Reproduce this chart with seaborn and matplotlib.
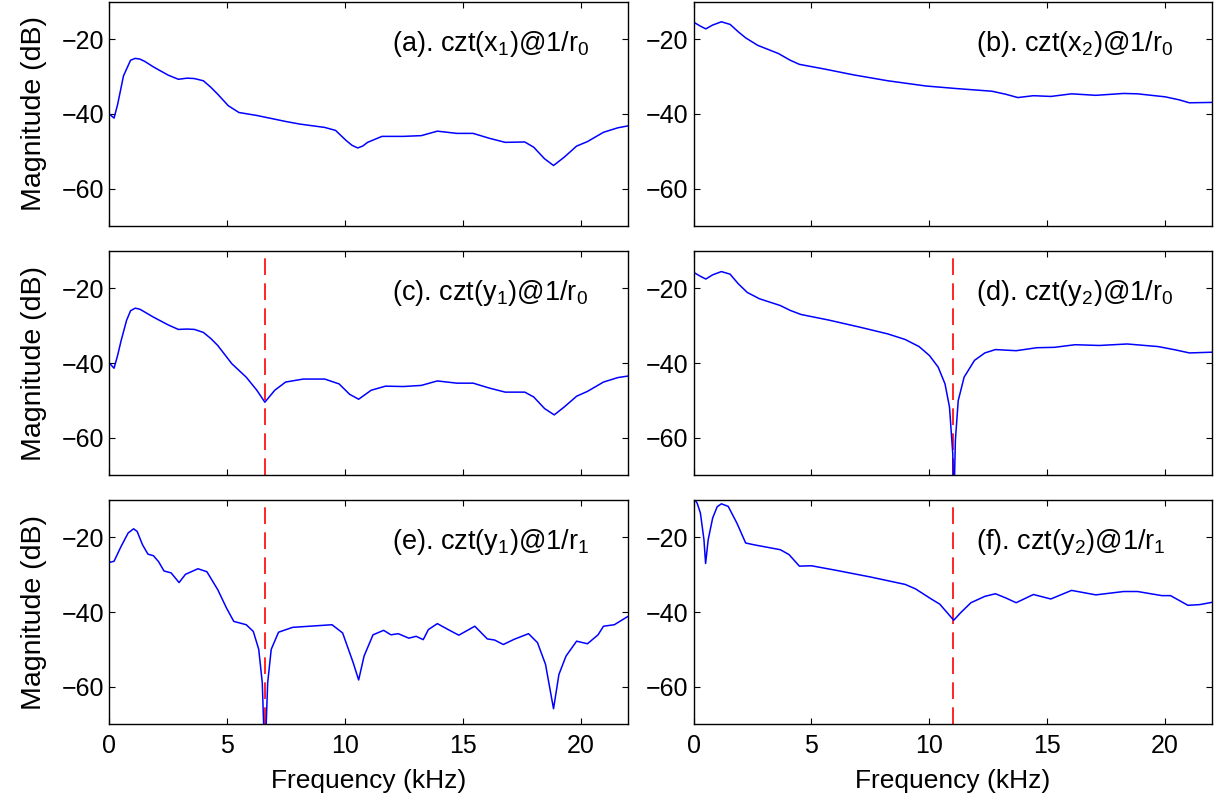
import numpy as np
import pandas as pd
import matplotlib
matplotlib.use('Agg')
import matplotlib.pyplot as plt
import seaborn as sns

# CZT magnitude responses (kHz, dB)
freq_a = [0, 0.2, 0.35, 0.6, 0.9, 1.1, 1.3, 1.5, 1.9, 2.5, 2.93, 3.3, 3.6, 3.99, 4.3, 4.6,
          5.05, 5.5, 6.26, 7.48, 8.08, 9.14, 9.6, 10.05, 10.3, 10.54, 10.75, 10.96, 11.57,
          12.48, 13.24, 13.92, 14.75, 15.44, 16.12, 16.8, 17.63, 18.01, 18.47, 18.85, 19.3,
          19.83, 20.29, 20.97, 21.58, 22]
mag_a = [-40.0, -41.1, -37.5, -29.8, -25.6, -25.1, -25.3, -25.9, -27.5, -29.6, -30.7, -30.4,
         -30.5, -31.1, -32.8, -34.7, -37.8, -39.6, -40.4, -42.0, -42.7, -43.6, -44.4, -47.1,
         -48.4, -49.1, -48.6, -47.6, -46.0, -46.0, -45.8, -44.6, -45.2, -45.2, -46.5, -47.6,
         -47.5, -48.9, -52.0, -53.8, -51.6, -48.6, -47.4, -44.9, -43.7, -43.2]

freq_b = [0, 0.3, 0.52, 0.8, 1.18, 1.55, 1.9, 2.21, 2.72, 3.6, 4.1, 4.49, 5.59, 6.77, 8.24,
          9.86, 11.18, 12.66, 13.24, 13.76, 14.42, 15.16, 16.04, 17.07, 18.25, 18.84, 20.01,
          20.6, 21.04, 22]
mag_b = [-15.4, -16.5, -17.2, -16.2, -15.3, -16.0, -18.0, -19.6, -21.6, -23.8, -25.6, -26.7,
         -28.0, -29.5, -31.1, -32.5, -33.2, -33.9, -34.7, -35.6, -35.1, -35.3, -34.6, -35.0,
         -34.5, -34.6, -35.4, -36.2, -37.0, -36.9]

freq_c = [0, 0.2, 0.35, 0.5, 0.73, 0.9, 1.1, 1.3, 1.87, 2.5, 2.93, 3.3, 3.61, 3.99, 4.3, 4.6,
          5.2, 5.81, 6.26, 6.6, 7.02, 7.48, 8.23, 9.14, 9.75, 10.2, 10.58, 11.11, 11.72, 12.48,
          13.24, 13.92, 14.75, 15.44, 16.12, 16.8, 17.63, 18.01, 18.47, 18.88, 19.3, 19.83,
          20.29, 20.97, 21.58, 22]
mag_c = [-40.0, -41.4, -38.0, -34.0, -28.6, -26.0, -25.3, -25.6, -27.7, -29.8, -31.0, -30.9,
         -31.0, -31.8, -33.4, -35.3, -40.2, -43.8, -47.3, -50.5, -47.3, -45.1, -44.3, -44.3,
         -45.6, -48.4, -49.7, -47.3, -46.2, -46.3, -46.0, -44.8, -45.4, -45.4, -46.7, -47.8,
         -47.8, -49.1, -52.2, -53.9, -51.8, -48.9, -47.6, -45.1, -43.9, -43.5]

freq_d = [0, 0.3, 0.52, 0.8, 1.18, 1.55, 1.9, 2.28, 2.8, 3.68, 4.1, 4.56, 5.74, 7.06, 8.24,
          8.98, 9.57, 10.01, 10.38, 10.67, 10.86, 11.0, 11.04, 11.11, 11.23, 11.48, 11.92,
          12.36, 12.81, 13.69, 14.57, 15.31, 16.19, 17.22, 18.4, 19.72, 20.46, 21.04, 22]
mag_d = [-15.7, -16.8, -17.5, -16.4, -15.5, -16.2, -18.8, -21.1, -22.8, -24.6, -25.9, -27.0,
         -28.5, -30.4, -32.2, -33.7, -35.6, -38.0, -41.1, -45.6, -51.8, -64.3, -80.0, -60.7,
         -50.1, -43.8, -39.3, -37.3, -36.4, -36.7, -35.9, -35.8, -35.1, -35.3, -34.9, -35.6,
         -36.5, -37.3, -37.1]

freq_e = [0, 0.2, 0.5, 0.8, 1.03, 1.18, 1.41, 1.64, 1.87, 2.09, 2.32, 2.62, 2.96, 3.23, 3.76,
          4.14, 4.6, 4.97, 5.28, 5.81, 6.11, 6.34, 6.49, 6.6, 6.72, 6.87, 7.18, 7.78, 9.45,
          9.9, 10.35, 10.58, 10.81, 11.19, 11.64, 11.95, 12.26, 12.71, 13.02, 13.32, 13.54,
          13.92, 14.38, 14.83, 15.51, 16.04, 16.35, 16.72, 17.18, 17.79, 18.17, 18.51, 18.85,
          19.08, 19.38, 19.83, 20.29, 20.74, 20.97, 21.43, 22]
mag_e = [-26.7, -26.4, -22.4, -18.8, -17.7, -18.4, -22.0, -24.5, -24.9, -26.5, -29.0, -29.5,
         -32.1, -29.9, -28.4, -29.2, -34.0, -38.9, -42.5, -43.4, -45.2, -50.0, -58.9, -80.0,
         -58.9, -50.0, -45.4, -44.1, -43.4, -45.6, -53.6, -58.2, -51.8, -46.1, -44.9, -46.1,
         -45.8, -47.0, -46.5, -47.4, -44.7, -43.1, -44.7, -46.2, -43.8, -47.2, -47.5, -48.7,
         -47.3, -45.8, -48.2, -54.0, -65.9, -56.7, -51.8, -47.8, -48.5, -46.1, -43.8, -43.4,
         -41.2]

freq_f = [0, 0.15, 0.29, 0.44, 0.51, 0.62, 0.81, 1.0, 1.18, 1.47, 1.84, 2.21, 2.58, 3.68,
          4.05, 4.49, 5.0, 6.03, 7.5, 8.98, 9.42, 10.01, 10.45, 11.04, 11.33, 11.77, 12.36,
          12.81, 13.24, 13.69, 14.42, 15.16, 16.04, 17.07, 18.25, 18.84, 19.87, 20.24, 20.98,
          21.49, 22]
mag_f = [-9.5, -10.8, -13.5, -20.6, -27.0, -20.6, -14.8, -11.8, -11.0, -11.7, -16.2, -21.5,
         -22.0, -23.3, -24.6, -27.7, -27.6, -28.8, -30.6, -32.6, -33.8, -36.2, -37.9, -42.2,
         -40.2, -37.5, -35.8, -35.1, -36.2, -37.5, -35.3, -36.5, -34.2, -35.4, -34.5, -34.5,
         -35.6, -35.6, -38.2, -38.0, -37.4]

panels = [
    (freq_a, mag_a, r'(a). czt(x$_\mathrm{1}$)@1/r$_\mathrm{0}$', None),
    (freq_b, mag_b, r'(b). czt(x$_\mathrm{2}$)@1/r$_\mathrm{0}$', None),
    (freq_c, mag_c, r'(c). czt(y$_\mathrm{1}$)@1/r$_\mathrm{0}$', 6.62),
    (freq_d, mag_d, r'(d). czt(y$_\mathrm{2}$)@1/r$_\mathrm{0}$', 11.03),
    (freq_e, mag_e, r'(e). czt(y$_\mathrm{1}$)@1/r$_\mathrm{1}$', 6.62),
    (freq_f, mag_f, r'(f). czt(y$_\mathrm{2}$)@1/r$_\mathrm{1}$', 11.03),
]

sns.set_style("ticks")
plt.rcParams['font.family'] = ['Liberation Sans', 'DejaVu Sans']
plt.rcParams.update({
    'mathtext.fontset': 'custom',
    'mathtext.rm': 'Liberation Sans',
    'mathtext.it': 'Liberation Sans:italic',
    'xtick.direction': 'in', 'ytick.direction': 'in',
    'xtick.top': True, 'ytick.right': True,
    'xtick.major.size': 4, 'ytick.major.size': 4,
    'axes.linewidth': 1.0, 'axes.edgecolor': 'black',
    'text.color': 'black', 'axes.labelcolor': 'black',
    'xtick.color': 'black', 'ytick.color': 'black',
})

fig, axes = plt.subplots(3, 2, figsize=(12.23, 8.05), dpi=100)
fig.subplots_adjust(left=0.0894, right=0.991, top=0.9975, bottom=0.1006,
                    wspace=0.127, hspace=0.112)

for i, (f, m, label, marker) in enumerate(panels):
    ax = axes[i // 2, i % 2]
    if marker is not None:
        ax.axvline(marker, color='#ff0000', lw=1.2, dashes=(10, 5), zorder=1)
    df = pd.DataFrame({'freq': f, 'mag': m})
    sns.lineplot(data=df, x='freq', y='mag', ax=ax, sort=False, estimator=None,
                 color='#0000ff', lw=1.1, zorder=2)
    ax.set_xlim(0, 22)
    ax.set_ylim(-70, -10)
    ax.set_xticks([0, 5, 10, 15, 20])
    ax.set_yticks([-60, -40, -20])
    ax.tick_params(labelsize=18, width=0.8)
    ax.tick_params(axis='x', pad=7)
    ax.text(12, -23, label, fontsize=19.5, va='baseline', ha='left')
    ax.set_xlabel('')
    ax.set_ylabel('')
    if i // 2 < 2:
        ax.set_xticklabels([])
    else:
        ax.set_xlabel('Frequency (kHz)', fontsize=19, labelpad=8)
    if i % 2 == 0:
        ax.set_ylabel('Magnitude (dB)', fontsize=20.5, labelpad=11)
    for s in ax.spines.values():
        s.set_visible(True)

plt.savefig('out.png', dpi=100)
